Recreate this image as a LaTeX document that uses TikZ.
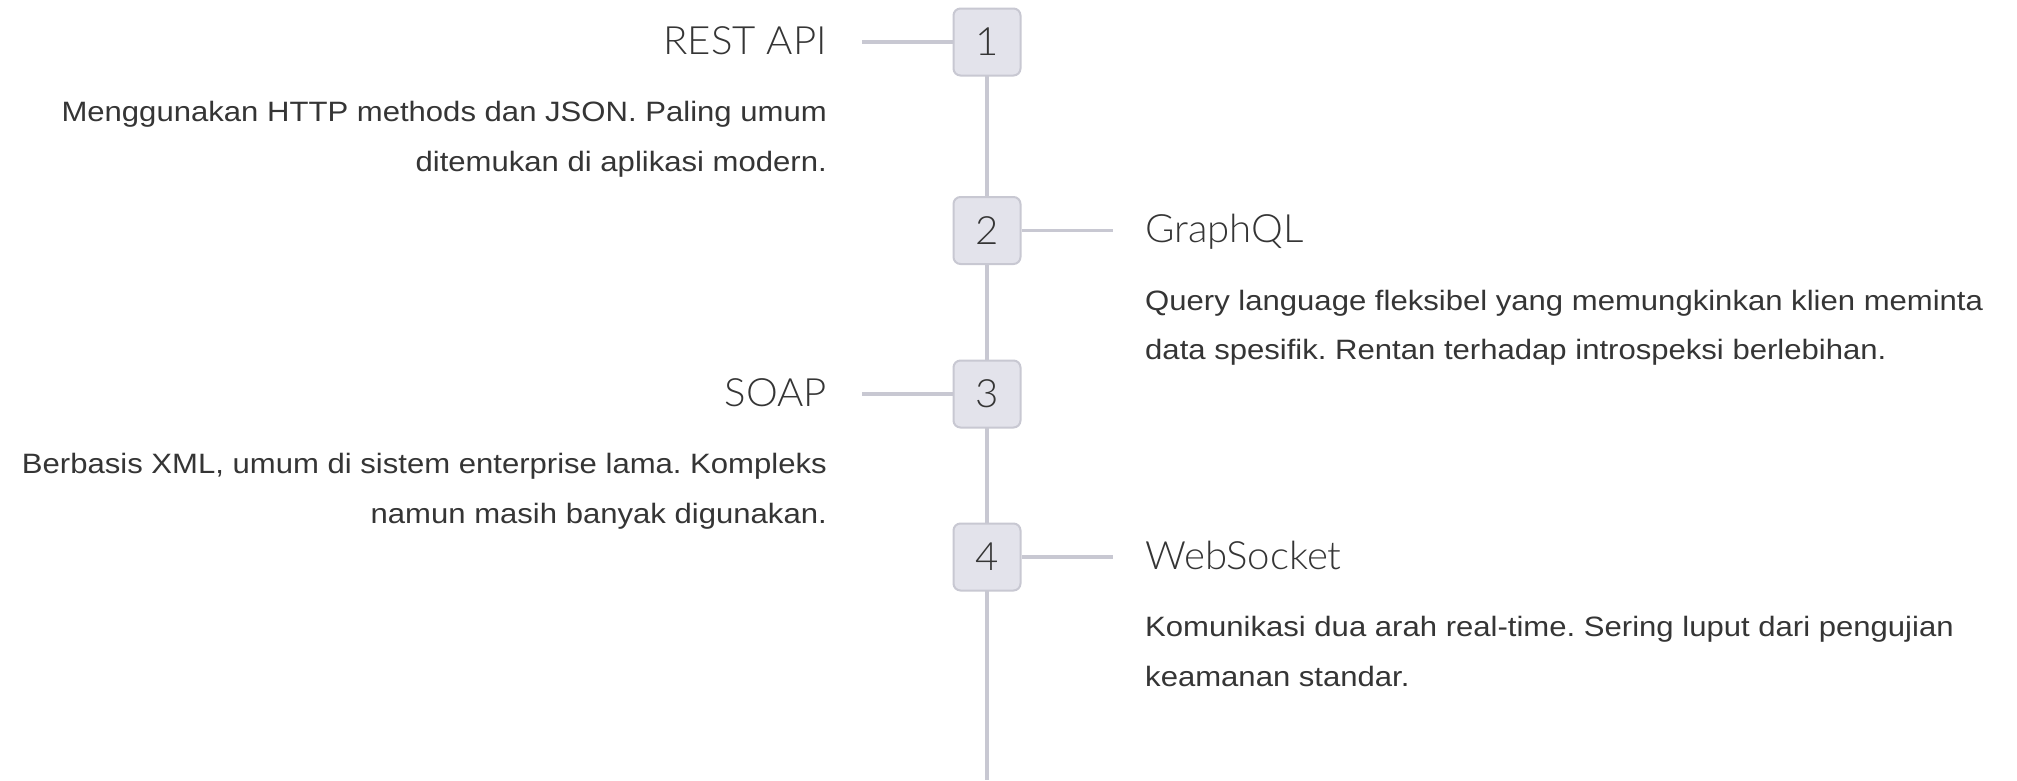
\documentclass[tikz,border=0pt]{standalone}
\usepackage{fontspec}
\setmainfont{Liberation Sans}
\newfontfamily\titlefont[FakeStretch=1.03]{Lato Light}
\newfontfamily\descfont[FakeStretch=1.11]{Liberation Sans}
\usetikzlibrary{backgrounds}
\definecolor{linec}{HTML}{C8C8D2}
\definecolor{boxf}{HTML}{E3E3EB}
\definecolor{txt}{HTML}{353535}
\tikzset{
  numbox/.style={draw=linec, line width=2pt, fill=boxf, rounded corners=7pt,
    minimum width=67pt, minimum height=67pt, inner sep=0pt,
    font=\titlefont\fontsize{39}{39}\selectfont, text=txt},
  ttl/.style={inner sep=0pt, font=\titlefont\fontsize{39}{39}\selectfont, text=txt},
  desc/.style={inner sep=0pt, font=\descfont\frenchspacing\fontsize{28}{28}\selectfont, text=txt},
  conn/.style={draw=linec, line width=3.5pt},
}
\begin{document}
\begin{tikzpicture}[x=1pt,y=-1pt]
\useasboundingbox (0,0) rectangle (2017,780);
% boxes
\node[numbox] (b1) at (987,42) {1};
\node[numbox] (b2) at (987,230.5) {2};
\node[numbox] (b3) at (987,394) {3};
\node[numbox] (b4) at (987,557) {4};
\coordinate (bend) at (987,780);
% connector ends
\coordinate (c1) at (862,42);
\coordinate (c2) at (1113,230.5);
\coordinate (c3) at (862,394);
\coordinate (c4) at (1113,557);
% titles
\node[ttl, anchor=base east] (t1) at (827,54.3) {REST API};
\node[ttl, anchor=base west] (t2) at (1145,242.7) {GraphQL};
\node[ttl, anchor=base east] (t3) at (827,406) {SOAP};
\node[ttl, anchor=base west] (t4) at (1145,569) {WebSocket};
% descriptions
\node[desc, anchor=base east] (d1a) at (827,121.7) {Menggunakan HTTP methods dan JSON. Paling umum};
\node[desc, anchor=base east] (d1b) at (827,171.7) {ditemukan di aplikasi modern.};
\node[desc, anchor=base west] (d2a) at (1145,310) {Query language fleksibel yang memungkinkan klien meminta};
\node[desc, anchor=base west] (d2b) at (1145,359.5) {data spesifik. Rentan terhadap introspeksi berlebihan.};
\node[desc, anchor=base east] (d3a) at (827,473.3) {Berbasis XML, umum di sistem enterprise lama. Kompleks};
\node[desc, anchor=base east] (d3b) at (827,523) {namun masih banyak digunakan.};
\node[desc, anchor=base west] (d4a) at (1145,636.5) {Komunikasi dua arah real-time. Sering luput dari pengujian};
\node[desc, anchor=base west] (d4b) at (1145,686.5) {keamanan standar.};
\begin{scope}[on background layer]
  \fill[white] (0,0) rectangle (2017,780);
  \draw[conn] (b1.center) -- (b2.center) -- (b3.center) -- (b4.center) -- (bend);
  \draw[conn] (b1.west) -- (c1);
  \draw[conn] (b2.east) -- (c2);
  \draw[conn] (b3.west) -- (c3);
  \draw[conn] (b4.east) -- (c4);
\end{scope}
\end{tikzpicture}
\end{document}
